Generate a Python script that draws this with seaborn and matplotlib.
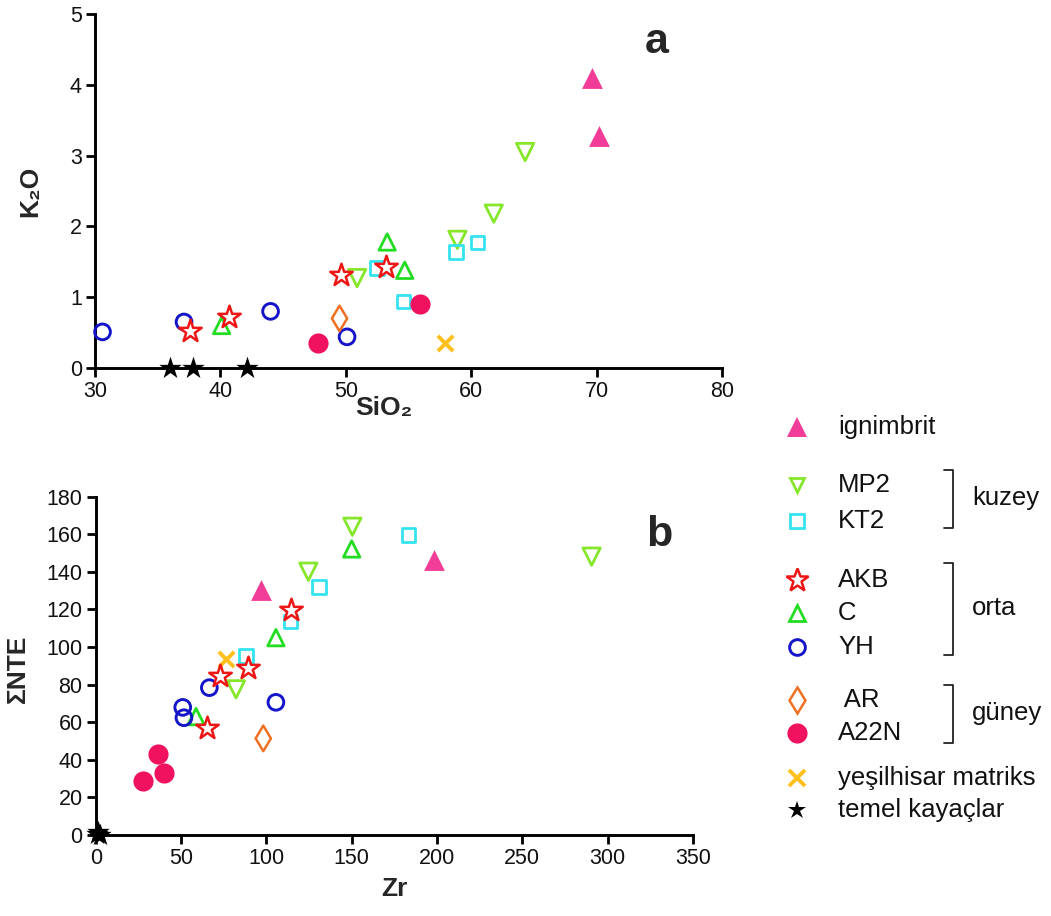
import matplotlib
matplotlib.use("Agg")
import matplotlib.pyplot as plt
import seaborn as sns
import pandas as pd

# ---------------- data: panel a (SiO2 vs K2O) ----------------
ign_sio2 = [69.6, 70.2]
ign_k2o = [4.09, 3.27]
mp2_sio2 = [50.9, 58.9, 61.8, 64.3]
mp2_k2o = [1.27, 1.81, 2.18, 3.05]
kt2_sio2 = [52.5, 54.6, 58.8, 60.5]
kt2_k2o = [1.41, 0.94, 1.64, 1.77]
akb_sio2 = [37.6, 40.7, 49.6, 53.2]
akb_k2o = [0.52, 0.72, 1.31, 1.43]
c_sio2 = [40.1, 53.3, 54.7]
c_k2o = [0.60, 1.78, 1.38]
yh_sio2 = [30.6, 37.1, 44.0, 50.1]
yh_k2o = [0.51, 0.65, 0.80, 0.44]
ar_sio2 = [49.5]
ar_k2o = [0.70]
a22n_sio2 = [47.8, 55.9]
a22n_k2o = [0.36, 0.91]
yes_sio2 = [57.9]
yes_k2o = [0.36]
tem_sio2 = [36.0, 37.8, 42.1]
tem_k2o = [0.0, 0.0, 0.0]

# ---------------- data: panel b (Zr vs sum NTE) ----------------
ign_zr = [96.9, 198.4]
ign_nte = [130.4, 146.3]
mp2_zr = [82.2, 124.6, 150.4, 290.6]
mp2_nte = [77.5, 140.1, 164.0, 148.1]
kt2_zr = [88.1, 114.2, 130.8, 183.2]
kt2_nte = [95.4, 113.5, 131.8, 159.6]
akb_zr = [65.0, 72.8, 89.4, 114.2]
akb_nte = [56.8, 84.8, 89.0, 119.7]
c_zr = [58.8, 105.6, 150.0]
c_nte = [63.0, 105.0, 152.2]
yh_zr = [51.0, 51.7, 66.6, 105.6]
yh_nte = [67.9, 62.4, 78.4, 70.6]
ar_zr = [98.2]
ar_nte = [51.4]
a22n_zr = [27.5, 36.7, 40.2]
a22n_nte = [28.7, 43.1, 32.8]
yes_zr = [76.4]
yes_nte = [93.5]
tem_zr = [0.5, 1.5, 2.5]
tem_nte = [0.5, 1.5, 0.0]

group_names = ["ignimbrit", "MP2", "KT2", "AKB", "C", "YH", " AR", "A22N",
               "yeşilhisar matriks", "temel kayaçlar"]

data_a = {
    "ignimbrit": (ign_sio2, ign_k2o), "MP2": (mp2_sio2, mp2_k2o),
    "KT2": (kt2_sio2, kt2_k2o), "AKB": (akb_sio2, akb_k2o),
    "C": (c_sio2, c_k2o), "YH": (yh_sio2, yh_k2o), " AR": (ar_sio2, ar_k2o),
    "A22N": (a22n_sio2, a22n_k2o), "yeşilhisar matriks": (yes_sio2, yes_k2o),
    "temel kayaçlar": (tem_sio2, tem_k2o),
}
data_b = {
    "ignimbrit": (ign_zr, ign_nte), "MP2": (mp2_zr, mp2_nte),
    "KT2": (kt2_zr, kt2_nte), "AKB": (akb_zr, akb_nte),
    "C": (c_zr, c_nte), "YH": (yh_zr, yh_nte), " AR": (ar_zr, ar_nte),
    "A22N": (a22n_zr, a22n_nte), "yeşilhisar matriks": (yes_zr, yes_nte),
    "temel kayaçlar": (tem_zr, tem_nte),
}

# ---------------- styles ----------------
styles = {
    "ignimbrit": dict(marker="^", color="#F23D98", fill=True, size=15.0, lw=0, z=3),
    "MP2": dict(marker="v", color="#86E62A", fill=False, size=12.5, lw=2.0, z=3),
    "KT2": dict(marker="s", color="#33E4F0", fill=False, size=9.8, lw=2.0, z=3),
    "AKB": dict(marker="*", color="#EE1515", fill="white", size=17.0, lw=1.8, z=5),
    "C": dict(marker="^", color="#22DD22", fill=False, size=11.8, lw=2.0, z=3),
    "YH": dict(marker="o", color="#1414C8", fill=False, size=11.3, lw=2.1, z=3),
    " AR": dict(marker="d", color="#F07022", fill=False, size=13.0, lw=1.8, z=3),
    "A22N": dict(marker="o", color="#F0125E", fill=True, size=14.5, lw=0, z=3),
    "yeşilhisar matriks": dict(marker="x", color="#FFC01E", fill=None, size=11.0, lw=2.8, z=4),
    "temel kayaçlar": dict(marker="*", color="#000000", fill=True, size=17.0, lw=0, z=6),
}
draw_order = ["ignimbrit", "MP2", "KT2", "C", "YH", " AR", "A22N",
              "yeşilhisar matriks", "AKB", "temel kayaçlar"]

sns.set_style("ticks")
plt.rcParams["font.family"] = ["Liberation Sans", "DejaVu Sans"]

fig = plt.figure(figsize=(10.51, 9.16), dpi=100)
W, H = 1051, 916
ax_a = fig.add_axes([95 / W, 1 - 368 / H, 627 / W, 354 / H])
ax_b = fig.add_axes([95.7 / W, 1 - 835 / H, 597.3 / W, 338.3 / H])


def draw(ax, dataset):
    for name in draw_order:
        st = styles[name]
        xs, ys = dataset[name]
        df = pd.DataFrame({"x": xs, "y": ys})
        kw = dict(marker=st["marker"], s=st["size"] ** 2, linewidth=st["lw"],
                  zorder=st["z"], clip_on=False, legend=False)
        if st["fill"] is True:
            kw.update(color=st["color"], edgecolor=st["color"])
        elif st["fill"] is False:
            kw.update(color=st["color"], facecolor="none", edgecolor=st["color"])
        elif st["fill"] == "white":
            kw.update(color=st["color"], facecolor="white", edgecolor=st["color"])
        else:
            kw.update(color=st["color"])
        sns.scatterplot(data=df, x="x", y="y", ax=ax, **kw)


draw(ax_a, data_a)
draw(ax_b, data_b)

for ax in (ax_a, ax_b):
    sns.despine(ax=ax)
    ax.tick_params(axis="both", length=6.5, width=2.0, labelsize=15.5, pad=3,
                   color="black", labelcolor="#111111")
    for sp in ("left", "bottom"):
        ax.spines[sp].set_color("black")
        ax.spines[sp].set_linewidth(2.1)

ax_a.set_xlim(30, 80)
ax_a.set_ylim(0, 5)
ax_a.set_xticks([30, 40, 50, 60, 70, 80])
ax_a.set_yticks([0, 1, 2, 3, 4, 5])
ax_b.set_xlim(0, 350)
ax_b.set_ylim(0, 180)
ax_b.set_xticks([0, 50, 100, 150, 200, 250, 300, 350])
ax_b.set_yticks(list(range(0, 181, 20)))

lab_kw = dict(fontsize=19, fontweight="bold")
ax_a.set_xlabel("SiO₂", **lab_kw)
ax_a.set_ylabel("K₂O", **lab_kw)
ax_b.set_xlabel("Zr", **lab_kw)
ax_b.set_ylabel("ΣNTE", **lab_kw)
ax_a.xaxis.set_label_coords(0.46, -0.080)
ax_a.yaxis.set_label_coords(-0.084, 0.5)
ax_b.xaxis.set_label_coords(0.5, -0.125)
ax_b.yaxis.set_label_coords(-0.110, 0.49)

# overlay axes in figure pixel coordinates (y from top) for letters and legend
lax = fig.add_axes([0, 0, 1, 1])
lax.set_xlim(0, W)
lax.set_ylim(H, 0)
lax.axis("off")
lax.patch.set_alpha(0)

lax.text(657, 53, "a", fontsize=31, fontweight="bold", ha="center", va="baseline")
lax.text(659, 546, "b", fontsize=31, fontweight="bold", ha="center", va="baseline")

# ---------------- legend ----------------
legend_y = {"ignimbrit": 427, "MP2": 485, "KT2": 521, "AKB": 580, "C": 613,
            "YH": 647, " AR": 700, "A22N": 733, "yeşilhisar matriks": 778,
            "temel kayaçlar": 810}
mx, tx = 797, 838
for name in group_names:
    st = styles[name]
    y = legend_y[name]
    size = st["size"] * (0.8 if name in ("MP2", "temel kayaçlar") else 1.0)
    if st["fill"] is True:
        mfc = st["color"]
    elif st["fill"] is False:
        mfc = "none"
    elif st["fill"] == "white":
        mfc = "white"
    else:
        mfc = st["color"]
    lax.plot([mx], [y], marker=st["marker"], markersize=size,
             markerfacecolor=mfc, markeredgecolor=st["color"],
             markeredgewidth=st["lw"], linestyle="none", color=st["color"])
    lax.text(tx, y, name, fontsize=18.5, ha="left", va="center", color="#111111")

brackets = [("kuzey", 470, 528), ("orta", 563, 655), ("güney", 685, 743)]
bx = 953
for label, y0, y1 in brackets:
    lax.plot([bx - 9, bx, bx, bx - 9], [y0, y0, y1, y1], color="#222222", lw=1.3)
    lax.text(bx + 19, (y0 + y1) / 2 - 1, label, fontsize=18.5, ha="left",
             va="center", color="#111111")

fig.savefig("out.png", dpi=100)
